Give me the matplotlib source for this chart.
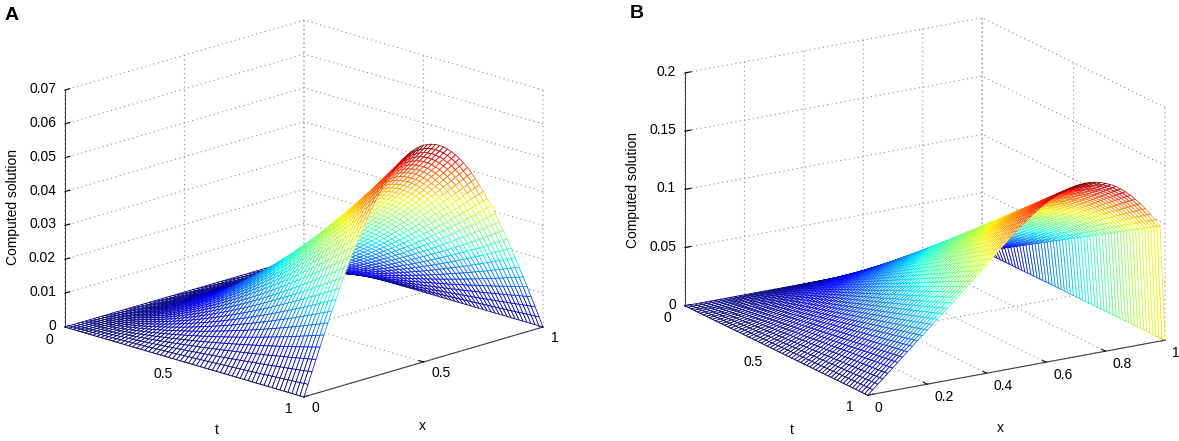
import numpy as np
import matplotlib
matplotlib.use("Agg")
import matplotlib.pyplot as plt
from mpl_toolkits.mplot3d import proj3d

plt.rcParams['font.family'] = ['Liberation Sans', 'DejaVu Sans']
plt.rcParams['font.size'] = 10

# ---- data ----
# panel A: computed solution at t = 1 along x (61 mesh nodes) and growth in t
a_x_profile = [0.0, 0.00335, 0.00669, 0.01001, 0.01331, 0.01656, 0.01978, 0.02294, 0.02603, 0.02906,
               0.032, 0.03485, 0.03762, 0.04028, 0.04282, 0.04525, 0.04756, 0.04973, 0.05178, 0.05368,
               0.05542, 0.05702, 0.05846, 0.05975, 0.06087, 0.06182, 0.0626, 0.06321, 0.06365, 0.06391,
               0.064, 0.06391, 0.06365, 0.06321, 0.0626, 0.06182, 0.06087, 0.05975, 0.05846, 0.05702,
               0.05542, 0.05368, 0.05178, 0.04973, 0.04756, 0.04525, 0.04282, 0.04028, 0.03762, 0.03485,
               0.032, 0.02906, 0.02603, 0.02294, 0.01978, 0.01656, 0.01331, 0.01001, 0.00669, 0.00335, 0.0]
a_t_growth = [0.0, 0.0022, 0.0061, 0.0112, 0.0172, 0.0241, 0.0316, 0.0398, 0.0487, 0.0581,
              0.068, 0.0785, 0.0894, 0.1009, 0.1127, 0.125, 0.1377, 0.1508, 0.1643, 0.1782,
              0.1925, 0.2071, 0.222, 0.2373, 0.253, 0.269, 0.2853, 0.3019, 0.3188, 0.336,
              0.3536, 0.3714, 0.3895, 0.4079, 0.4266, 0.4455, 0.4648, 0.4843, 0.504, 0.524,
              0.5443, 0.5649, 0.5857, 0.6067, 0.628, 0.6495, 0.6713, 0.6933, 0.7155, 0.738,
              0.7607, 0.7837, 0.8068, 0.8302, 0.8538, 0.8776, 0.9017, 0.926, 0.9504, 0.9751, 1.0]

# panel B: computed solution at t = 1 along x (drops to 0 at x = 1) and growth in t
b_x_profile = [0.0, 0.0039, 0.0078, 0.0116, 0.0155, 0.0194, 0.0233, 0.0271, 0.031, 0.0349,
               0.0388, 0.0426, 0.0465, 0.0504, 0.0542, 0.0581, 0.0619, 0.0658, 0.0697, 0.0736,
               0.0775, 0.0814, 0.0853, 0.0893, 0.0933, 0.0974, 0.1015, 0.1055, 0.1095, 0.1134,
               0.1172, 0.1209, 0.1245, 0.1279, 0.1311, 0.1341, 0.1368, 0.1392, 0.1413, 0.1431,
               0.1446, 0.1458, 0.1467, 0.1473, 0.1475, 0.1473, 0.1467, 0.1456, 0.1441, 0.1422,
               0.1399, 0.1371, 0.1338, 0.13, 0.1258, 0.1212, 0.1162, 0.1108, 0.105, 0.099, 0.0]
b_t_growth = [0.0, 0.0167, 0.0333, 0.05, 0.0667, 0.0833, 0.1, 0.1167, 0.1333, 0.15,
              0.1667, 0.1833, 0.2, 0.2167, 0.2333, 0.25, 0.2667, 0.2833, 0.3, 0.3167,
              0.3333, 0.35, 0.3667, 0.3833, 0.4, 0.4167, 0.4333, 0.45, 0.4667, 0.4833,
              0.5, 0.5167, 0.5333, 0.55, 0.5667, 0.5833, 0.6, 0.6167, 0.6333, 0.65,
              0.6667, 0.6833, 0.7, 0.7167, 0.7333, 0.75, 0.7667, 0.7833, 0.8, 0.8167,
              0.8333, 0.85, 0.8667, 0.8833, 0.9, 0.9167, 0.9333, 0.95, 0.9667, 0.9833, 1.0]

a_t_ticks = [0, 0.5, 1]
a_x_ticks = [0, 0.5, 1]
a_z_ticks = [0, 0.01, 0.02, 0.03, 0.04, 0.05, 0.06, 0.07]
b_t_ticks = [0, 0.5, 1]
b_x_ticks = [0, 0.2, 0.4, 0.6, 0.8, 1]
b_z_ticks = [0, 0.05, 0.1, 0.15, 0.2]

W, H = 1179, 441
fig = plt.figure(figsize=(W / 100, H / 100), dpi=100)
jet = plt.get_cmap('jet', 64)


def fmt(v):
    return '%g' % v


def make_panel(rect, x_prof, t_grow, t_ticks, x_ticks, z_ticks, elev, azim, aspect):
    ax = fig.add_axes(rect, projection='3d')
    ax.set_proj_type('ortho')
    ax.view_init(elev=elev, azim=azim)
    t_nodes = np.linspace(0, 1, len(t_grow))
    x_nodes = np.linspace(0, 1, len(x_prof))
    TT, XX = np.meshgrid(t_nodes, x_nodes, indexing='ij')
    Z = np.outer(t_grow, x_prof)
    cols = jet(Z / Z.max())
    surf = ax.plot_surface(TT, XX, Z, facecolors=cols, rstride=1, cstride=1,
                           shade=False, linewidth=0.55, antialiased=True)
    surf.set_facecolor('white')
    ax.set_xlim(0, 1)
    ax.set_ylim(0, 1)
    ax.set_zlim(z_ticks[0], z_ticks[-1])
    ax.set_xticks(t_ticks)
    ax.set_yticks(x_ticks)
    ax.set_zticks(z_ticks)
    ax.set_xticklabels([])
    ax.set_yticklabels([])
    ax.set_zticklabels([])
    ax.zaxis.set_ticks_position('lower')
    for axis in (ax.xaxis, ax.yaxis, ax.zaxis):
        axis.set_pane_color((1, 1, 1, 0))
        axis.pane.set_edgecolor((1, 1, 1, 0))
        axis.line.set_color('0.25')
        axis.line.set_linewidth(0.8)
        axis._axinfo['grid'].update(color='0.55', linestyle=(0, (1, 3)), linewidth=0.8)
        axis._axinfo['tick'].update(inward_factor=0.0, outward_factor=0.25)
    ax.set_box_aspect(aspect)
    return ax


def to_px(ax, xs, ys, zs):
    px, py, _ = proj3d.proj_transform(np.asarray(xs, float), np.asarray(ys, float),
                                      np.asarray(zs, float), ax.get_proj())
    return ax.transData.transform(np.column_stack([px, py]))


def fit(ax, aspect, left_px, right_px):
    # scale and shift the box so its left and right floor corners land where the reference has them
    tgt = np.array([[left_px[0], H - left_px[1]], [right_px[0], H - right_px[1]]], float)
    zoom = 1.0
    zlo = ax.get_zlim()[0]
    for _ in range(3):
        ax.set_box_aspect(aspect, zoom=zoom)
        fig.canvas.draw()
        p = to_px(ax, [0, 1], [0, 1], [zlo, zlo])
        zoom *= np.linalg.norm(tgt[1] - tgt[0]) / np.linalg.norm(p[1] - p[0])
        ax.set_box_aspect(aspect, zoom=zoom)
        fig.canvas.draw()
        p = to_px(ax, [0, 1], [0, 1], [zlo, zlo])
        d = (tgt - p).mean(axis=0)
        pos = ax.get_position(original=True)
        ax.set_position([pos.x0 + d[0] / W, pos.y0 + d[1] / H, pos.width, pos.height])
    fig.canvas.draw()


def put(px, py, s, **kw):
    # px, py: display pixels (origin bottom-left)
    fig.text(px / W, py / H, s, fontsize=10, **kw)


def tick_labels(ax, t_ticks, x_ticks, z_ticks, t_off, x_off, z_off):
    zlo = z_ticks[0]
    for v, p in zip(t_ticks, to_px(ax, t_ticks, [0] * len(t_ticks), [zlo] * len(t_ticks))):
        put(p[0] + t_off[0], p[1] - t_off[1], fmt(v), ha='right', va='center')
    for v, p in zip(x_ticks, to_px(ax, [1] * len(x_ticks), x_ticks, [zlo] * len(x_ticks))):
        put(p[0] + x_off[0], p[1] - x_off[1], fmt(v), ha='left', va='center')
    for v, p in zip(z_ticks, to_px(ax, [0] * len(z_ticks), [0] * len(z_ticks), z_ticks)):
        put(p[0] + z_off[0], p[1] - z_off[1], fmt(v), ha='right', va='center')


side = 560
ax_a = make_panel([(304 - side / 2) / W, (H - 207 - side / 2) / H, side / W, side / H],
                  a_x_profile, a_t_growth, a_t_ticks, a_x_ticks, a_z_ticks,
                  17, -45, (1, 1, 0.733))
ax_b = make_panel([(925 - side / 2) / W, (H - 207 - side / 2) / H, side / W, side / H],
                  b_x_profile, b_t_growth, b_t_ticks, b_x_ticks, b_z_ticks,
                  17.5, -31.6, (1, 1, 0.70))

fit(ax_a, (1, 1, 0.733), (65, 327), (543, 327))
fit(ax_b, (1, 1, 0.70), (685, 306), (1165, 340))

tick_labels(ax_a, a_t_ticks, a_x_ticks, a_z_ticks, (-11.5, 12.5), (8, 11), (-9, -1))
tick_labels(ax_b, b_t_ticks, b_x_ticks, b_z_ticks, (-14, 12), (7, 13), (-9, -1))

# axis titles, placed at the reference pixel positions (from top-left)
put(217, H - 430, 't', ha='center', va='center')
put(422, H - 426, 'x', ha='center', va='center')
put(13, H - 207, 'Computed solution', ha='center', va='center', rotation=90)
put(792, H - 430, 't', ha='center', va='center')
put(1000, H - 428, 'x', ha='center', va='center')
put(633, H - 190, 'Computed solution', ha='center', va='center', rotation=90)

fig.text(12 / W, 1 - 15 / H, 'A', fontsize=14, fontweight='bold', ha='center', va='center')
fig.text(637 / W, 1 - 13 / H, 'B', fontsize=14, fontweight='bold', ha='center', va='center')

fig.savefig('out.png', dpi=100)
